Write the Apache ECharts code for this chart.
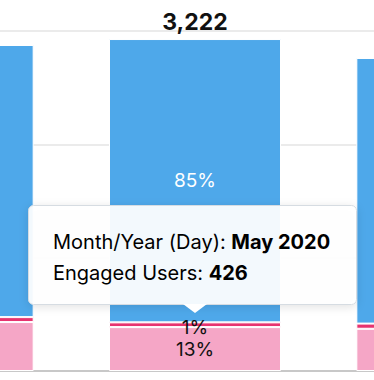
<!DOCTYPE html>
<html>
<head>
<meta charset="utf-8">
<style>
  html, body { margin: 0; padding: 0; background: #fff; overflow: hidden; width: 374px; height: 380px; }
  #wrap { position: relative; width: 374px; height: 380px; overflow: hidden; }
  /* the chart is a wider, horizontally scrolled chart; only a window of it is visible */
  #chart { position: absolute; left: -176px; top: 0; width: 742px; height: 380px; }
</style>
<script src="https://cdn.jsdelivr.net/npm/echarts@6/dist/echarts.min.js"></script>
</head>
<body>
<div id="wrap"><div id="chart"></div></div>
<script>
// ---- data ----
const categories = ['Apr 2020', 'May 2020', 'Jun 2020'];
const otherUsers = [2641, 2750, 2578];     // blue segment
const newUsers = [48, 46, 50];             // red thin segment
const engagedUsers = [475, 426, 410];      // pink segment
const yMax = 3300;
const yInterval = 1100;
const tooltipIndex = 1;   // the fully visible category (labels of the cut-off bars lie outside the window)

const totals = categories.map((_, i) => otherUsers[i] + newUsers[i] + engagedUsers[i]);
const pct = (v, i) => Math.round(v / totals[i] * 100) + '%';
const FONT = 'Inter, Lato, sans-serif';
const VIEW_OFFSET = 176; // chart pixels hidden to the left of the visible window

const chart = echarts.init(document.getElementById('chart'), null, { renderer: 'svg' });

const withLabelVisibility = arr => arr.map((v, i) => ({ value: v, label: { show: i === tooltipIndex } }));
const segLabel = (color) => ({
  show: true,
  position: 'inside',
  color: color,
  fontFamily: FONT,
  fontSize: 19,
  formatter: p => pct(p.value, p.dataIndex)
});

chart.setOption({
  animation: false,
  grid: { left: 0, right: 0, top: 31, bottom: 9, containLabel: false },
  xAxis: {
    type: 'category',
    data: categories,
    axisLine: { show: true, lineStyle: { color: '#c8c8c8', width: 2 } },
    axisTick: { show: false },
    axisLabel: { show: false }
  },
  yAxis: {
    type: 'value',
    min: 0,
    max: yMax,
    interval: yInterval,
    axisLine: { show: false },
    axisTick: { show: false },
    axisLabel: { show: false },
    splitLine: { lineStyle: { color: '#ebebeb', width: 2 } }
  },
  series: [
    {
      name: 'Engaged Users', type: 'bar', stack: 'u', barWidth: 172,
      data: withLabelVisibility(engagedUsers),
      itemStyle: { color: '#F5A6C6', borderColor: '#fff', borderWidth: 1 },
      label: segLabel('#111')
    },
    {
      name: 'New Users', type: 'bar', stack: 'u', barWidth: 172,
      data: withLabelVisibility(newUsers),
      itemStyle: { color: '#E6336F', borderColor: '#fff', borderWidth: 1 },
      label: Object.assign(segLabel('#111'), { offset: [0, 3] })
    },
    {
      name: 'Other Users', type: 'bar', stack: 'u', barWidth: 172,
      data: withLabelVisibility(otherUsers),
      itemStyle: { color: '#4EA8EA', borderColor: '#fff', borderWidth: 1 },
      label: segLabel('#fff')
    },
    {
      name: 'Total', type: 'bar', stack: 'u', barWidth: 172,
      data: withLabelVisibility(categories.map(() => 0)),
      itemStyle: { color: 'transparent', borderWidth: 0 },
      label: {
        show: true, position: 'top', distance: 6,
        color: '#111', fontFamily: FONT, fontWeight: 'bold', fontSize: 23,
        formatter: p => totals[p.dataIndex].toLocaleString('en-US')
      }
    }
  ]
});

// tooltip drawn as graphic, anchored to the May 2020 bar
const anchor = chart.convertToPixel({ xAxisIndex: 0, yAxisIndex: 0 }, [tooltipIndex, totals[tooltipIndex]]);
const cx = anchor[0];
const boxX = VIEW_OFFSET + 28.5, boxY = 205.5, boxW = 328, boxH = 99;
const tipY = 313;

const richStyles = {
  n: { fontFamily: FONT, fontSize: 20, color: '#111' },
  b: { fontFamily: FONT, fontSize: 20, fontWeight: 'bold', color: '#111' }
};

chart.setOption({
  graphic: [
    {
      type: 'rect', z: 100,
      shape: { x: boxX, y: boxY, width: boxW, height: boxH, r: 5 },
      style: {
        fill: 'rgba(255,255,255,0.93)', stroke: '#d6dce2', lineWidth: 1,
        shadowBlur: 10, shadowColor: 'rgba(0,0,0,0.12)', shadowOffsetY: 2
      }
    },
    {
      type: 'polygon', z: 101,
      shape: { points: [[cx - 12, boxY + boxH - 0.5], [cx + 12, boxY + boxH - 0.5], [cx, tipY]] },
      style: { fill: '#ffffff' }
    },
    {
      type: 'text', z: 102, x: VIEW_OFFSET + 53, y: 242,
      style: {
        text: '{n|Month/Year (Day): }{b|' + categories[tooltipIndex] + '}',
        verticalAlign: 'middle',
        rich: richStyles
      }
    },
    {
      type: 'text', z: 102, x: VIEW_OFFSET + 53, y: 273,
      style: {
        text: '{n|Engaged Users: }{b|' + engagedUsers[tooltipIndex] + '}',
        verticalAlign: 'middle',
        rich: richStyles
      }
    }
  ]
});
</script>
</body>
</html>
